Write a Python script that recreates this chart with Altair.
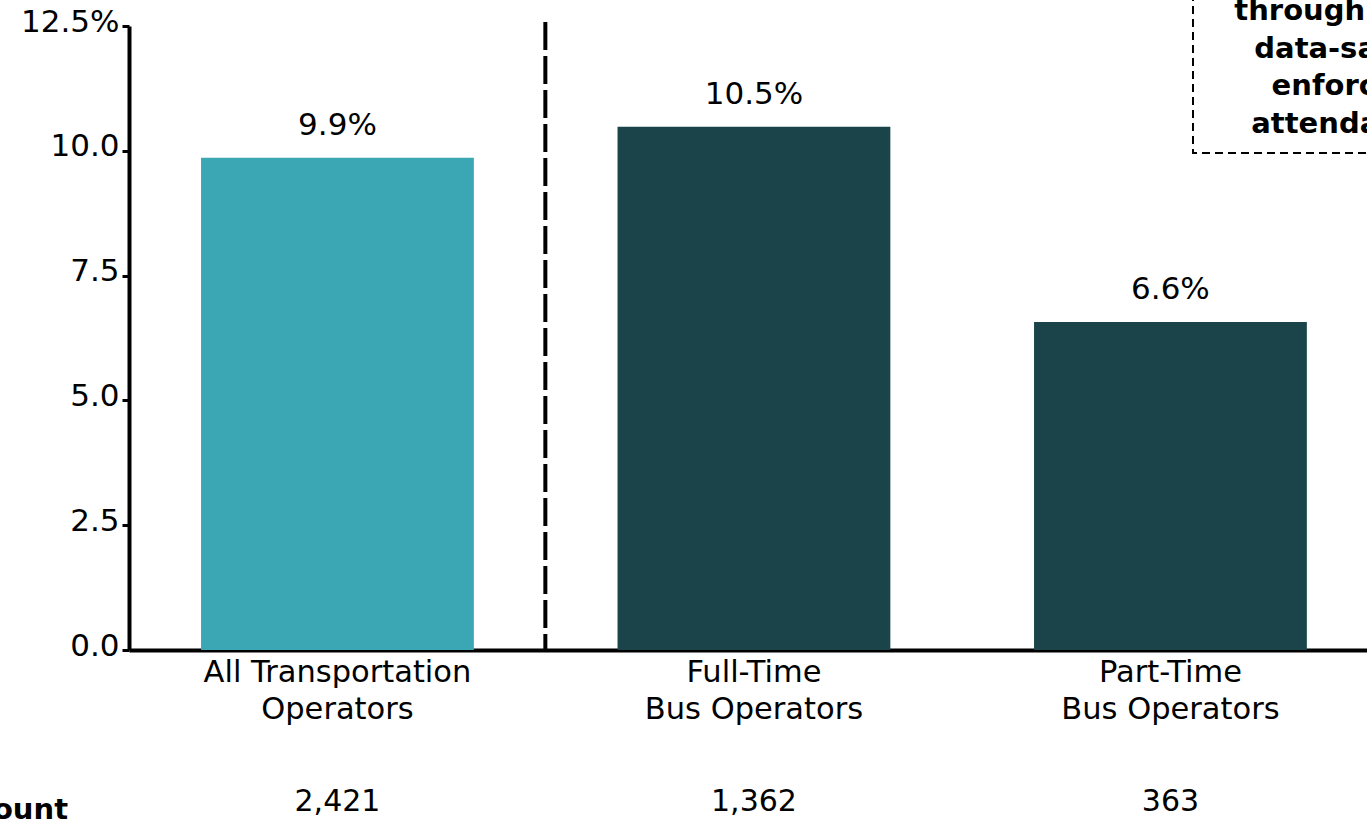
import altair as alt
import pandas as pd

categories = ["All Transportation|Operators", "Full-Time|Bus Operators", "Part-Time|Bus Operators"]
rates = [9.86, 10.48, 6.57]
counts = ["2,421", "1,362", "363"]
groups = ["All", "Bus", "Bus"]
group_names = ["All", "Bus"]
group_colors = ["#3ba7b4", "#1a4449"]
y_ticks = [0, 2.5, 5, 7.5, 10, 12.5]
note_lines = ["through their", "data-savvy", "enforced", "attendance"]
row_label = "Headcount"

FONT = "DejaVu Sans"

df = pd.DataFrame({"cat": categories, "rate": rates, "count": counts, "grp": groups})

xscale = alt.Scale(domain=categories, paddingInner=0.345, paddingOuter=0.1587, align=0.545)
yscale = alt.Scale(domain=[0, 12.5], nice=False, zero=True)

x_enc = alt.X(
    "cat:N", sort=categories, scale=xscale,
    axis=alt.Axis(
        title=None, labelExpr="split(datum.value, '|')", labelAngle=0, ticks=False,
        labelFontSize=30.5, labelFont=FONT, labelColor="black", labelLineHeight=37,
        labelPadding=7, domainColor="black", domainWidth=4, labelBaseline="top",
        labelLimit=0,
    ),
)
y_enc = alt.Y(
    "rate:Q", scale=yscale,
    axis=alt.Axis(
        values=y_ticks, title=None, grid=False,
        labelExpr="datum.value == 12.5 ? format(datum.value, '.1f') + '%' : format(datum.value, '.1f')",
        tickSize=7, tickWidth=3, tickColor="black", domainColor="black", domainWidth=4,
        labelFontSize=31, labelFont=FONT, labelColor="black", labelPadding=3,
        labelBaseline="alphabetic", labelOffset=5,
    ),
)

base = alt.Chart(df)

bars = base.mark_bar().encode(
    x=x_enc, y=y_enc,
    color=alt.Color("grp:N", scale=alt.Scale(domain=group_names, range=group_colors), legend=None),
)

labels = base.transform_calculate(
    lab="format(datum.rate, '.1f') + '%'"
).mark_text(font=FONT, fontSize=31, baseline="alphabetic", dy=-23, color="black").encode(
    x=alt.X("cat:N", sort=categories), y=alt.Y("rate:Q"), text="lab:N"
)

count_text = base.mark_text(font=FONT, fontSize=30, baseline="alphabetic", color="black").encode(
    x=alt.X("cat:N", sort=categories), y=alt.value(785), text="count:N"
)

# divider halfway between the first and second bars
divider = base.transform_filter(
    alt.datum.cat == categories[0]
).mark_rule(color="black", strokeWidth=4, strokeDash=[28, 6], xOffset=71.5).encode(
    x=alt.X("cat:N", sort=categories, bandPosition=1),
    y=alt.datum(12.58),
    y2=alt.datum(0),
)

note_df = pd.DataFrame({"t": [note_lines]})
note_box = alt.Chart(note_df).mark_rect(
    fill=None, stroke="black", strokeWidth=2, strokeDash=[8, 5]
).encode(x=alt.value(1064), x2=alt.value(1330), y=alt.value(-60), y2=alt.value(127))

note_text = alt.Chart(note_df).mark_text(
    font=FONT, fontSize=29, fontWeight="bold", align="center", baseline="alphabetic",
    lineHeight=37.7, color="black",
).encode(x=alt.value(1215), y=alt.value(-6), text="t")

row_df = pd.DataFrame({"t": [row_label]})
row_text = alt.Chart(row_df).mark_text(
    font=FONT, fontSize=29, fontWeight="bold", align="right", baseline="alphabetic", color="black"
).encode(x=alt.value(-61), y=alt.value(793), text="t:N")

chart = alt.layer(bars, labels, count_text, divider, note_box, note_text, row_text).properties(
    width=1238, height=624,
    autosize=alt.AutoSizeParams(type="none"),
    padding={"left": 129, "top": 26, "right": 0, "bottom": 176},
    background="white",
).configure_view(stroke=None)

chart.save("out.html", embed_options={"renderer": "svg", "actions": False})
